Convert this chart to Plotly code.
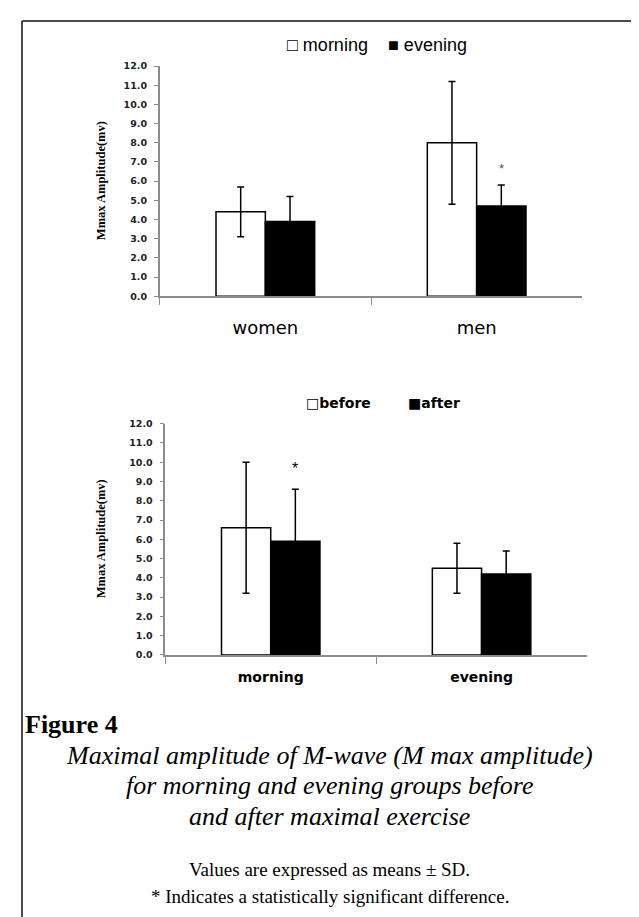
import plotly.graph_objects as go

# ---------------- data ----------------
sex_groups = ["women", "men"]
morning_mean = [4.4, 8.0]
morning_sd = [1.3, 3.2]
evening_mean = [3.9, 4.7]
evening_sd = [1.3, 1.1]

time_groups = ["morning", "evening"]
before_mean = [6.6, 4.5]
before_sd = [3.4, 1.3]
after_mean = [5.9, 4.2]
after_sd = [2.7, 1.2]

# significance markers: (category, y position of "*")
top_sig = [("men", 6.8)]
bottom_sig = [("morning", 9.9)]

y_ticks = [float(v) for v in range(0, 13)]

caption_title = "Figure 4"
caption_lines = [
    "Maximal amplitude of M-wave (M max amplitude)",
    "for morning and evening groups before",
    "and after maximal exercise",
]
note_lines = [
    "Values are expressed as means ± SD.",
    "* Indicates a statistically significant difference.",
]

# ---------------- layout helpers ----------------
W, H = 639, 917
def px(x):
    return x / W
def py(y):
    return 1 - y / H

BARGAP = 0.533
top_x = (151.7, 574.3)
top_y = (52.7, 285.7)
bot_x = (157.3, 579.0)
bot_y = (414.7, 648.7)

fig = go.Figure()

def add_bar(x, y, sd, color, xa, ya, name):
    fig.add_trace(go.Bar(
        x=x, y=y, name=name, showlegend=False,
        marker=dict(color=color, line=dict(color="black", width=1.5)),
        error_y=dict(type="data", array=sd, visible=True, color="black",
                     thickness=1.5, width=3.5),
        xaxis=xa, yaxis=ya,
    ))

add_bar(sex_groups, morning_mean, morning_sd, "white", "x", "y", "morning")
add_bar(sex_groups, evening_mean, evening_sd, "black", "x", "y", "evening")
add_bar(time_groups, before_mean, before_sd, "white", "x2", "y2", "before")
add_bar(time_groups, after_mean, after_sd, "black", "x2", "y2", "after")

axis_gray = "#8c8c8c"
common_x = dict(type="category", showline=True, linecolor=axis_gray, linewidth=1.5,
                ticks="outside", tickson="boundaries", ticklen=7, tickcolor=axis_gray,
                tickwidth=1.2, showgrid=False, zeroline=False, range=[-0.5, 1.5])
common_y = dict(range=[0, 12], tickvals=y_ticks, tickformat=".1f", showline=True,
                linecolor=axis_gray, linewidth=1.5, ticks="outside", ticklen=4,
                tickcolor=axis_gray, tickwidth=1.2, showgrid=False, zeroline=False,
                tickfont=dict(family="DejaVu Sans", size=9.5, color="#222", weight="bold"),
                ticklabelstandoff=5)

fig.update_layout(
    width=W, height=H, autosize=False,
    margin=dict(l=0, r=0, t=0, b=0),
    paper_bgcolor="white", plot_bgcolor="white",
    barmode="group", bargap=BARGAP, bargroupgap=0,
    xaxis=dict(common_x, domain=[px(top_x[0]), px(top_x[1])], anchor="y",
               tickfont=dict(family="DejaVu Sans", size=18, color="black"),
               ticklabelstandoff=14),
    yaxis=dict(common_y, domain=[py(top_y[1]), py(top_y[0])], anchor="x"),
    xaxis2=dict(common_x, domain=[px(bot_x[0]), px(bot_x[1])], anchor="y2",
                tickfont=dict(family="DejaVu Sans", size=14, color="black", weight="bold"),
                ticklabelstandoff=9),
    yaxis2=dict(common_y, domain=[py(bot_y[1]), py(bot_y[0])], anchor="x2"),
)

# y-axis titles
for yc in [(top_y[0] + top_y[1]) / 2, (bot_y[0] + bot_y[1]) / 2]:
    fig.add_annotation(text="Mmax Amplitude(mv)", xref="paper", yref="paper",
                       x=px(93), y=py(yc), textangle=-90, showarrow=False,
                       font=dict(family="Liberation Serif", size=12.5, color="black", weight="bold"),
                       xanchor="center", yanchor="middle")

# significance asterisks (offset to the second bar of the group)
def bar_shift(xdom):
    cat_w = (xdom[1] - xdom[0]) / 2
    return cat_w * (1 - BARGAP) / 4

for cat, yv in top_sig:
    fig.add_annotation(text="*", x=cat, y=yv, xref="x", yref="y", showarrow=False,
                       xshift=bar_shift(top_x), yshift=-3,
                       font=dict(family="Liberation Sans", size=13, color="#555"))
for cat, yv in bottom_sig:
    fig.add_annotation(text="*", x=cat, y=yv, xref="x2", yref="y2", showarrow=False,
                       xshift=bar_shift(bot_x), yshift=-4,
                       font=dict(family="Liberation Sans", size=16, color="black"))

# legends (as text, Excel-like)
fig.add_annotation(text="□ morning", xref="paper", yref="paper", x=px(277), y=py(31),
                   xanchor="left", yanchor="middle", showarrow=False,
                   font=dict(family="Liberation Sans", size=18, color="black"))
fig.add_annotation(text="■ evening", xref="paper", yref="paper", x=px(378), y=py(31),
                   xanchor="left", yanchor="middle", showarrow=False,
                   font=dict(family="Liberation Sans", size=18, color="black"))
fig.add_annotation(text="□before", xref="paper", yref="paper", x=px(296), y=py(394),
                   xanchor="left", yanchor="middle", showarrow=False,
                   font=dict(family="DejaVu Sans", size=14, color="black", weight="bold"))
fig.add_annotation(text="■after", xref="paper", yref="paper", x=px(398), y=py(394),
                   xanchor="left", yanchor="middle", showarrow=False,
                   font=dict(family="DejaVu Sans", size=14, color="black", weight="bold"))

# caption
fig.add_annotation(text="<b>" + caption_title + "</b>", xref="paper", yref="paper",
                   x=px(15), y=py(719), xanchor="left", yanchor="middle", showarrow=False,
                   font=dict(family="Liberation Serif", size=26, color="black"))
for i, line in enumerate(caption_lines):
    fig.add_annotation(text="<i>" + line + "</i>", xref="paper", yref="paper",
                       x=px(322), y=py(750 + 31 * i), xanchor="center", yanchor="middle",
                       showarrow=False,
                       font=dict(family="Liberation Serif", size=26, color="black"))
for i, line in enumerate(note_lines):
    fig.add_annotation(text=line, xref="paper", yref="paper",
                       x=px(322), y=py(866 + 27 * i), xanchor="center", yanchor="middle",
                       showarrow=False,
                       font=dict(family="Liberation Serif", size=19, color="black"))

# frame lines
fig.add_shape(type="line", xref="paper", yref="paper", x0=px(14), x1=1, y0=py(7), y1=py(7),
              line=dict(color="#111", width=1.5))
fig.add_shape(type="line", xref="paper", yref="paper", x0=px(14), x1=px(14), y0=py(7), y1=0,
              line=dict(color="#111", width=1.5))

fig.write_html("out.html")
